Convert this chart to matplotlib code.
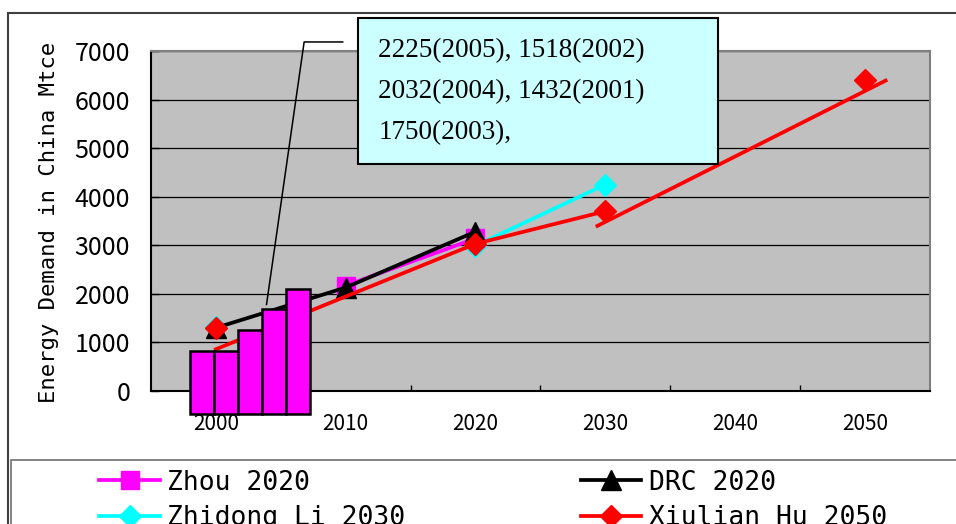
import numpy as np
import matplotlib
matplotlib.use("Agg")
import matplotlib.pyplot as plt
from matplotlib.patches import Rectangle

# scenario forecasts, Mtce (nan = no value for that year)
years = [2000, 2010, 2020, 2030, 2040, 2050]
zhou = [np.nan, 2170, 3140, np.nan, np.nan, np.nan]
drc = [1300, 2130, 3280, np.nan, np.nan, np.nan]
zhidong_li = [1320, np.nan, 2990, 4250, np.nan, np.nan]
xiulian_hu = [1300, np.nan, 3030, 3700, np.nan, 6400]

# red trend segments drawn with the Hu series
hu_path_years = [2000, 2020]
hu_path_vals = [860, 3030]
hu_trend_years = [2029.4, 2051.6]
hu_trend_vals = [3400, 6390]

# inset bars for recent actual consumption
bar_left = [1998.0, 1999.85, 2001.7, 2003.55, 2005.4]
bar_top = [820, 820, 1250, 1680, 2110]
bar_base = -470

callout_lines = ["2225(2005), 1518(2002)", "2032(2004), 1432(2001)", "1750(2003),"]

mono = "DejaVu Sans Mono"
gothic = "Noto Sans CJK JP"

fig = plt.figure(figsize=(9.56, 5.24), dpi=100)
ax = fig.add_axes([151 / 956, 1 - 391 / 524, 778.7 / 956, 340 / 524])
ax.set_facecolor("#C0C0C0")
ax.set_xlim(1995, 2055)
ax.set_ylim(0, 7000)

ax.set_yticks(range(0, 7001, 1000))
ax.yaxis.grid(True, color="black", lw=0.9)
ax.set_axisbelow(True)
ax.set_xticks(years)
ax.set_xticks(range(2005, 2050, 10), minor=True)
ax.tick_params(axis="x", which="major", length=0, pad=16, labelsize=15)
ax.tick_params(axis="x", which="minor", direction="in", length=4, width=1)
ax.tick_params(axis="y", direction="in", length=6, width=1, pad=15, labelsize=18)
for lab in ax.get_xticklabels() + ax.get_yticklabels():
    lab.set_family(gothic)
for side in ["left", "bottom"]:
    ax.spines[side].set_color("black")
    ax.spines[side].set_linewidth(1.5)
for side in ["top", "right"]:
    ax.spines[side].set_color("#808080")
    ax.spines[side].set_linewidth(1.5)

lw = 2.7
h_li, = ax.plot(years, zhidong_li, color="#00FFFF", lw=lw, marker="D", ms=11, zorder=3)
h_zhou, = ax.plot(years, zhou, color="#FF00FF", lw=lw, marker="s", ms=13.5, zorder=4)
h_drc, = ax.plot(years, drc, color="black", lw=lw, marker="^", ms=14.5, zorder=5)
ax.plot(hu_path_years, hu_path_vals, color="red", lw=lw, zorder=6)
ax.plot(hu_trend_years, hu_trend_vals, color="red", lw=lw, zorder=6)
h_hu, = ax.plot(years, xiulian_hu, color="red", lw=lw, marker="D", ms=11, zorder=6)

ax.bar(bar_left, [t - bar_base for t in bar_top], bottom=bar_base, width=1.85,
       align="edge", color="#FF00FF", edgecolor="black", lw=1.8, zorder=7, clip_on=False)

# callout with leader line
ax.plot([2009.77, 2006.8, 2003.9], [7186, 7186, 1781], color="black", lw=1.1,
        zorder=8, clip_on=False)
ax.add_patch(Rectangle((2010.92, 4680), 27.8, 2993, facecolor="#CCFFFF",
                       edgecolor="black", lw=1.5, zorder=9, clip_on=False))
for i, line in enumerate(callout_lines):
    ax.text(2012.5, 7000 - i * 844, line, family="Liberation Serif", fontsize=19.5,
            ha="left", va="center", zorder=10)

fig.text(49 / 956, 1 - 222 / 524, "Energy Demand in China Mtce", family=mono,
         fontsize=16, rotation=90, ha="center", va="center")

# chart frame and legend frame
fig.add_artist(Rectangle((8 / 956, -0.2), 1.2, 1.2 - 13 / 524, transform=fig.transFigure,
                         fill=False, edgecolor="#404040", lw=1.5))
fig.add_artist(Rectangle((11 / 956, -0.2), 1.2, 1.2 - 460 / 524, transform=fig.transFigure,
                         fill=False, edgecolor="#707070", lw=1.2))

fig.legend(handles=[h_zhou, h_li, h_drc, h_hu],
           labels=["Zhou 2020", "Zhidong Li 2030", "DRC 2020", "Xiulian Hu 2050"],
           ncol=2, loc="upper left", bbox_to_anchor=(99.3 / 956, 1 - 469.7 / 524),
           frameon=False, prop={"family": mono, "size": 19}, handlelength=2.3,
           handletextpad=0.27, columnspacing=6.65, labelspacing=0.37, borderpad=0,
           borderaxespad=0)

fig.savefig("out.png", dpi=100)
